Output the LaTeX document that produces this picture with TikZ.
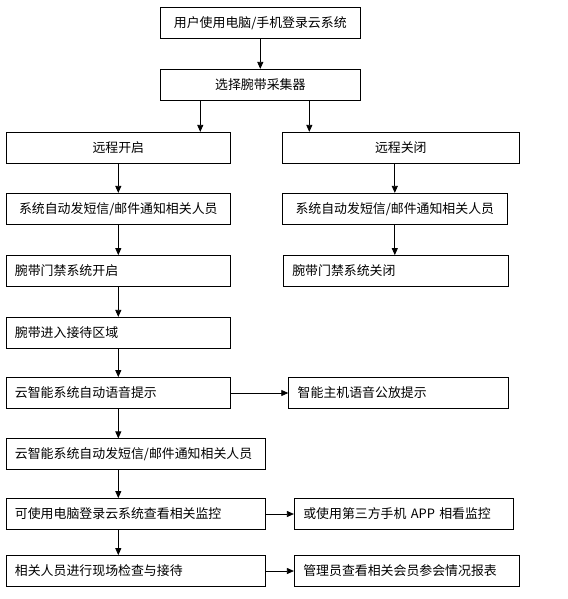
\documentclass[tikz,border=0pt]{standalone}
\usepackage{fontspec}
\newfontfamily\cjk{Noto Sans CJK SC}
\usetikzlibrary{arrows.meta, calc}

\begin{document}
\begin{tikzpicture}[x=1pt, y=-1pt,
    box/.style={draw, line width=0.8pt, minimum height=31pt, inner sep=0pt, font=\cjk\fontsize{12.9}{15}\selectfont},
    cbox/.style={box, align=center},
    lbox/.style={box, align=left, inner xsep=9pt},
    arr/.style={-{Triangle[length=7pt,width=6pt]}, line width=0.8pt}]
      \useasboundingbox (0,0) rectangle (567,599);

      \node[cbox, minimum width=199.3pt] (login) at (260.3,22.8) {用户使用电脑/手机登录云系统};
      \node[cbox, minimum width=199.3pt] (select) at (260.3,84.8) {选择腕带采集器};

      \node[cbox, minimum width=224.7pt] (remoteOn) at (118.3,147.8) {远程开启};
      \node[cbox, minimum width=237pt] (remoteOff) at (400.8,147.8) {远程关闭};

      \node[cbox, minimum width=224.7pt] (smsOn) at (118.3,208.8) {系统自动发短信/邮件通知相关人员};
      \node[cbox, minimum width=225pt] (smsOff) at (394.8,208.8) {系统自动发短信/邮件通知相关人员};

      \node[lbox, text width=206.7pt] (gateOn) at (118.3,271) {腕带门禁系统开启};
      \node[lbox, text width=207pt] (gateOff) at (395.8,271) {腕带门禁系统关闭};

      \node[lbox, text width=206.7pt] (enter) at (118.3,332.8) {腕带进入接待区域};
      \node[lbox, text width=206.7pt] (voice) at (118.3,393) {云智能系统自动语音提示};
      \node[lbox, text width=201.6pt] (speaker) at (398.5,393) {智能主机语音公放提示};

      \node[lbox, text width=241.7pt] (smsCloud) at (135.8,454.3) {云智能系统自动发短信/邮件通知相关人员};
      \node[lbox, text width=241.7pt] (monitor) at (135.8,514) {可使用电脑登录云系统查看相关监控};
      \node[lbox, text width=201.4pt] (app) at (404,514) {或使用第三方手机 APP 相看监控};
      \node[lbox, text width=241.7pt] (check) at (135.8,571) {相关人员进行现场检查与接待};
      \node[lbox, text width=207pt] (report) at (406.8,571) {管理员查看相关会员参会情况报表};

      \draw[arr] (login) -- (select);
      \draw[arr] ($(select.south west)!0.2!(select.south east)$) coordinate (forkOn) -- (forkOn |- remoteOn.north);
      \draw[arr] ($(select.south west)!0.745!(select.south east)$) coordinate (forkOff) -- (forkOff |- remoteOff.north);

      \draw[arr] (remoteOn) -- (smsOn);
      \draw[arr] (smsOn) -- (gateOn);
      \draw[arr] (gateOn) -- (enter);
      \draw[arr] (enter) -- (voice);
      \draw[arr] (voice.south) -- (voice.south |- smsCloud.north);
      \draw[arr] (voice.south |- smsCloud.south) -- (voice.south |- monitor.north);
      \draw[arr] (voice.south |- monitor.south) -- (voice.south |- check.north);

      \draw[arr] (smsOff.north |- remoteOff.south) -- (smsOff.north);
      \draw[arr] (smsOff.south) -- (smsOff.south |- gateOff.north);

      \draw[arr] (voice) -- (speaker);
      \draw[arr] (monitor) -- (app);
      \draw[arr] (check) -- (report);
    \end{tikzpicture}
\end{document}
